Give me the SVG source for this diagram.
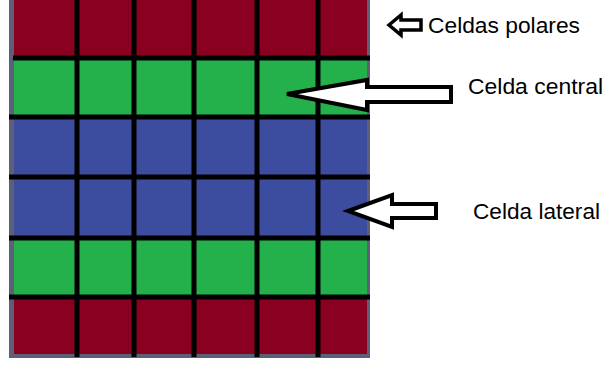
<svg xmlns="http://www.w3.org/2000/svg" width="609" height="365" viewBox="0 0 609 365">
  <style>
    .red { fill: #8a0020; }
    .green { fill: #24b14c; }
    .blue { fill: #3c4c9e; }
    .grid line { stroke: #000; stroke-width: 5; }
    .arrow { fill: #fff; stroke: #000; stroke-width: 4; stroke-linejoin: miter; }
    .label { font-family: "Liberation Sans", Arial, sans-serif; font-size: 22.5px; fill: #000; }
  </style>
  <rect width="609" height="365" fill="#fff"/>

  <!-- cell block: frame and coloured rows -->
  <g id="cells">
    <rect x="9" y="0" width="361" height="358" fill="#5b5f78"/>
    <rect class="red" x="14" y="0" width="353" height="58"/>
    <rect class="green" x="14" y="58" width="353" height="59"/>
    <rect class="blue" x="14" y="117" width="353" height="60"/>
    <rect class="blue" x="14" y="177" width="353" height="61"/>
    <rect class="green" x="14" y="238" width="353" height="59"/>
    <rect class="red" x="14" y="297" width="353" height="57"/>
  </g>

  <!-- grid lines -->
  <g id="grid" class="grid">
    <line x1="13" y1="58" x2="370" y2="58"/>
    <line x1="9" y1="117" x2="370" y2="117"/>
    <line x1="9" y1="177" x2="370" y2="177"/>
    <line x1="9" y1="238" x2="370" y2="238"/>
    <line x1="9" y1="297" x2="370" y2="297"/>
    <line x1="77" y1="0" x2="77" y2="357"/>
    <line x1="134" y1="0" x2="134" y2="357"/>
    <line x1="194" y1="0" x2="194" y2="357"/>
    <line x1="257" y1="0" x2="257" y2="357"/>
    <line x1="318" y1="0" x2="318" y2="357"/>
  </g>

  <!-- pointer arrows -->
  <g id="connectors">
    <path class="arrow" style="stroke-width:3.5" d="M389 25 L401 15 L401 20 L421 20 L421 30 L401 30 L401 35 Z"/>
    <path class="arrow" d="M287 94 L367 80 L367 87 L451 87 L451 102 L367 102 L367 110 Z"/>
    <path class="arrow" d="M348 211 L392 195 L392 204 L436 204 L436 218 L392 218 L392 227 Z"/>
  </g>

  <g id="label-polares">
    <text class="label" x="428" y="33" textLength="152" lengthAdjust="spacingAndGlyphs" style="font-size:21.5px">Celdas polares</text>
  </g>
  <g id="label-central">
    <text class="label" x="468" y="93.5" textLength="135" lengthAdjust="spacingAndGlyphs">Celda central</text>
  </g>
  <g id="label-lateral">
    <text class="label" x="473" y="218.5" textLength="127" lengthAdjust="spacingAndGlyphs">Celda lateral</text>
  </g>
</svg>
